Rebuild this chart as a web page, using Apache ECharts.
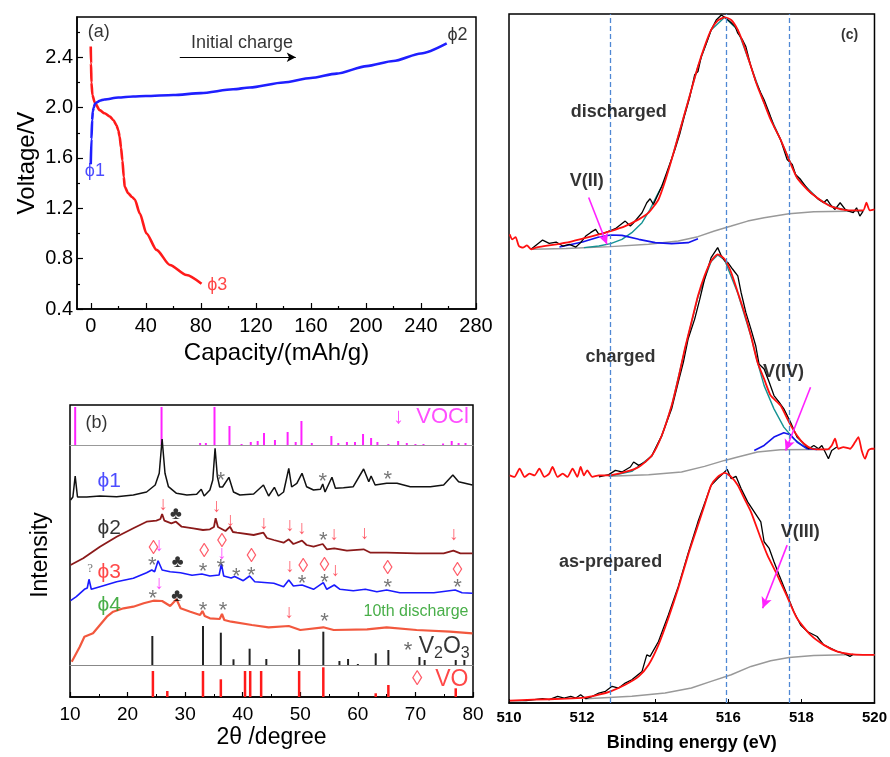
<!DOCTYPE html>
<html><head><meta charset="utf-8">
<script src="https://cdn.jsdelivr.net/npm/echarts@6/dist/echarts.min.js"></script>
<style>html,body{margin:0;padding:0;background:#fff}#c{width:890px;height:757px}</style>
</head><body><div id="c"></div><script>
const FONT = 'Arial, "Liberation Sans", sans-serif';

// ---------- Panel (a): charge / discharge ----------
const capTickLabels = [0, 40, 80, 120, 160, 200, 240, 280];
const capMinorTicks = [20, 60, 100, 140, 180, 220, 260];
const voltTickLabels = [0.4, 0.8, 1.2, 1.6, 2.0, 2.4];
const voltMinorTicks = [0.6, 1.0, 1.4, 1.8, 2.2, 2.6];
const chargeCurve = [[0,1.55],[0.5,1.75],[1,1.9],[1.5,1.97],[2.2,2.0],[3,2.03],[5,2.045],[6.5,2.055],[10,2.065],[20,2.08],[30.8,2.088],[40,2.092],[60,2.10],[80,2.115],[103.5,2.146],[115.6,2.16],[140,2.20],[160,2.235],[178.7,2.27],[200.5,2.33],[219.9,2.37],[240,2.43],[258.7,2.51]];
const dischargeCurve = [[0,2.485],[0.2,2.35],[0.5,2.2],[1.2,2.1],[2.9,2.04],[6.5,1.98],[10,1.955],[13.8,1.93],[16.5,1.9],[18.7,1.86],[20,1.82],[21,1.77],[22,1.68],[23,1.58],[24,1.45],[24.7,1.37],[27.2,1.32],[30,1.29],[32,1.27],[35.6,1.16],[40.5,1.0],[47.8,0.87],[57.5,0.75],[69.6,0.67],[80.5,0.60]];
const aLabels = [[5.8,2.60,'(a)','#000'],[110,2.51,'Initial charge','#000'],[3,1.50,'ϕ1','#1f1fff'],[92,0.59,'ϕ3','#ff1a1a'],[266.5,2.58,'ϕ2','#000']];
const aArrow = [[64.7,2.40],[149,2.40]];

// ---------- Panel (b): XRD ----------
const xrdTicks = [10, 20, 30, 40, 50, 60, 70, 80];
const voclSticks = [[10.9,38],[25.9,38],[32.6,2],[33.6,2],[35.1,38],[37.7,19],[39.8,1],[41.4,3],[42.6,4],[43.7,12],[45.6,5],[47.8,13],[49.2,3],[50.2,24],[52.0,2],[55.4,9],[56.6,2],[58.1,3],[59.5,3],[60.9,11],[62.3,7],[63.4,3],[65.3,1],[67.0,4],[68.5,2],[70.0,1],[71.4,1],[74.8,1.5],[76.3,4],[77.5,2],[78.7,2]];
const phi1 = [[10.1,165],[10.5,168],[10.9,189],[11.3,168],[12.9,168],[15.2,169],[18.1,168.3],[21.0,170],[23.3,173],[24.8,180],[25.5,191.7],[26.0,226],[26.5,191.7],[27.1,178.3],[28.5,171.7],[30.3,170],[32.0,170.7],[32.8,175.7],[33.3,169],[34.3,175],[34.8,185],[35.2,216.7],[35.6,188.3],[36.0,178],[36.5,178],[37.6,187.7],[38.4,173],[39.5,170],[41.9,171],[43.6,180],[44.5,169],[45.5,177.7],[46.2,169],[47.1,173],[48.0,196.7],[48.5,178],[49.4,181.7],[50.3,191.7],[51.1,178.3],[52.3,175],[53.5,175.7],[53.9,181],[54.3,173],[55.5,187.7],[56.1,176.7],[57.5,177.3],[59.2,178.3],[61.0,196],[61.9,183.3],[62.3,189],[63.0,180],[65.0,181.7],[66.8,181.7],[69.1,178.3],[72.6,178.3],[74.9,180],[76.5,190],[77.5,183.3],[79.9,180]];
const phi2 = [[10.1,100],[12.3,106.7],[15.2,118.3],[18.1,128.3],[21.0,136.7],[23.3,143.3],[25.0,144.3],[25.7,146],[26.0,151],[26.4,144.3],[27.6,141.7],[28.4,143.3],[29.4,138.3],[31.4,136.7],[33.1,135],[34.3,135.7],[35.0,138],[35.3,146.7],[35.7,138],[36.0,136.7],[37.0,134],[37.8,138.3],[38.3,133],[39.0,132.3],[41.9,130],[43.6,132.3],[44.2,127],[45.4,125],[47.1,122.3],[48.0,125.7],[48.8,121],[50.3,124.3],[51.1,120],[52.3,118.3],[53.9,121],[54.6,115.7],[55.9,116.7],[58.1,114.3],[61.0,115.7],[62.2,112.3],[65.0,112.3],[70.2,111.7],[74.9,111.7],[76.6,114.3],[77.8,111.7],[79.9,111.7]];
const phi3 = [[10.1,64.3],[11.1,68.3],[12.5,75.7],[13.0,77],[13.3,85.7],[13.7,75.7],[15.2,78.3],[18.1,83.3],[21.0,86.7],[23.3,92.3],[24.2,95],[24.7,93.3],[25.3,104.3],[26.0,95],[27.4,93.3],[29.2,92.3],[31.2,89.7],[32.9,91],[34.3,89],[35.9,90],[36.3,101],[36.7,89],[38.0,87],[38.6,88.5],[40.1,84.3],[41.2,89],[42.1,83.3],[45.4,81.7],[47.1,78.3],[48.0,85],[48.8,79],[50.3,80],[52.3,75.7],[54.0,82.3],[54.6,75.7],[55.9,80],[56.9,75.7],[59.2,74.3],[61.3,75.7],[63.3,73.3],[65.0,75],[67.3,72.3],[73.2,72.3],[76.9,75],[78.1,72.3],[79.9,71.7]];
const phi4 = [[10.3,3.3],[11.7,18.3],[12.5,28.3],[14.0,31.7],[15.2,40],[16.4,48.3],[17.5,53.3],[19.3,56.7],[21.0,58.3],[22.8,61.7],[24.5,64.3],[26.0,64],[27.4,59],[28.5,65.7],[29.2,56.7],[30.9,53.3],[32.6,50],[33.0,54],[33.4,49],[34.3,46.7],[36.0,46],[36.4,51],[36.8,45],[38.0,43.3],[41.6,40],[44.5,37.7],[48.0,39],[50.0,35],[54.0,37.7],[55.8,35],[61.6,35.7],[65.0,37.7],[70.2,35],[76.0,33.3],[79.9,31.7]];
const v2o3Sticks = [[24.3,29],[33.1,39],[36.2,32.3],[38.4,5.7],[41.2,16.3],[44.1,6],[49.8,15.7],[54.0,33.3],[56.8,4],[58.3,6],[60.0,1],[63.1,11.7],[65.3,15],[70.7,8],[71.6,5],[77.0,5],[78.5,5]];
const voSticks = [[24.4,26],[26.9,6],[33.1,26],[36.2,17.7],[40.4,26],[41.3,26],[43.2,26],[49.8,26],[54.0,29.7],[63.1,3.7],[65.3,12],[77.0,8.7]];
const bStars = [[36.2,189],[53.9,187.7],[65.2,190],[54.0,129.3],[24.3,104],[33.1,98.3],[36.2,101.7],[38.9,93.3],[41.5,94],[50.3,86],[54.2,87.3],[65.2,82.3],[77.3,81.7],[24.4,71],[33.1,59],[36.6,59],[54.2,48.3]];
const bArrowsRed = [[26.2,160],[35.5,158.3],[37.9,144],[43.7,141.7],[48.2,139],[50.3,136.7],[55.9,130.7],[61.2,131.7],[76.7,130],[48.2,98.3],[56.1,94],[48.1,52.3]];
const bArrowsMag = [[25.5,119],[36.4,111.7],[25.5,81.7]];
const bDiamonds = [[24.5,116.7],[33.3,114],[36.4,123.3],[41.5,108.3],[50.5,99],[54.2,99.3],[65.2,96.7],[77.3,95]];
const bClubs = [[28.4,151],[28.7,103.3],[28.6,69]];
const bQuestion = [[13.5,96.7]];
const bPhiLabels = [[16.8,184,'ϕ1','#2020ff'],[16.8,136.7,'ϕ2','#000'],[16.8,93,'ϕ3','#ff1a1a'],[16.8,60,'ϕ4','#1a9a1a'],[70.1,53.3,'10th discharge','#1a9a1a']];

// ---------- Panel (c): XPS ----------
const beTicks = [510, 512, 514, 516, 518, 520];
const refLines = [512.78, 515.94, 517.66];
const disRed = [[510.02,470],[510.09,465],[510.18,467.3],[510.27,458.3],[510.38,456.7],[510.49,459],[510.61,455],[510.74,456.7],[511.56,461.7],[512.01,465.7],[512.46,470],[512.78,473.3],[513.18,478.3],[513.55,485],[513.82,491.7],[514.09,505],[514.27,523.3],[514.45,545],[514.63,568.3],[514.81,591.7],[514.99,615],[515.17,638.3],[515.35,658.3],[515.53,675],[515.71,684.3],[515.90,687.7],[516.08,685],[516.26,675],[516.44,658.3],[516.62,638.3],[516.80,618.3],[516.98,601.7],[517.16,585],[517.43,565],[517.66,545],[517.88,526.7],[518.16,515],[518.43,506.7],[518.79,498.3],[519.24,494.3],[519.69,494],[519.78,501.7],[519.87,494],[520.0,495]];
const disData = [[510.61,455.3],[510.92,464.3],[511.10,461],[511.29,462.3],[511.47,458.3],[511.65,460],[511.83,457.3],[511.96,461.7],[512.10,468.3],[512.23,471.7],[512.37,475],[512.46,470],[512.64,471.7],[512.91,475.7],[513.18,483.3],[513.32,478.3],[513.41,481.7],[513.64,491.7],[513.77,501.7],[513.86,505.7],[513.95,500],[514.18,518.3],[514.36,536.7],[514.54,555],[514.68,571.7],[514.81,590],[514.95,608.3],[515.08,630],[515.17,633.3],[515.26,648.3],[515.40,661.7],[515.53,675],[515.67,685],[515.81,690],[515.94,686.7],[516.08,682.3],[516.19,678.3],[516.26,671.7],[516.39,665],[516.48,658.3],[516.62,638.3],[516.75,623.3],[516.89,611.7],[516.98,605],[517.12,591.7],[517.25,578.3],[517.43,565],[517.61,545],[517.75,540],[517.84,530],[517.98,525],[518.11,518.3],[518.25,511.7],[518.38,508.3],[518.47,505],[518.61,501.7],[518.70,505],[518.79,500],[518.92,495],[519.06,501.7],[519.20,495],[519.29,493.3],[519.42,491.7],[519.51,496.7],[519.60,488.3],[519.69,493.3]];
const disMain = [[512.05,456.7],[512.46,458.3],[512.78,460.7],[513.09,465],[513.36,471.7],[513.64,481.7],[513.86,495],[514.04,508.3],[514.18,518.3],[514.27,525],[514.45,545.3],[514.81,591.7],[515.17,638.3],[515.53,675],[515.90,687.7],[516.26,675],[516.62,638.3],[516.98,601.7],[517.43,565],[517.88,526.7],[518.43,506.7],[518.79,498.3],[519.24,494.3]];
const disMinor = [[511.38,457.3],[512.01,462.3],[512.46,467.3],[512.78,469.3],[513.09,469],[513.55,465],[514.00,461.7],[514.45,460.7],[514.90,461.7],[515.17,465.7]];
const disBg = [[510.65,455],[511.56,455.7],[512.78,457.7],[513.82,460],[514.63,463.3],[515.17,467.7],[515.62,473.3],[516.08,478.3],[516.53,483.3],[516.98,486.7],[517.66,490.7],[518.34,492.7],[519.24,493.3],[519.69,493.3]];
const chgRed = [[510.02,228.3],[510.15,226.7],[510.29,235],[510.43,226.7],[510.56,230],[510.70,228.3],[510.83,235],[510.97,226.7],[511.10,230],[511.19,236.7],[511.33,226.7],[511.47,230],[511.60,226.7],[511.74,235],[511.87,226.7],[511.96,236.7],[512.05,228.3],[512.14,233.3],[512.28,226.7],[512.46,228.3],[512.73,228.3],[513.18,231.7],[513.55,236.7],[513.91,248.3],[514.18,268.3],[514.45,298.3],[514.63,325],[514.81,355],[514.99,381.7],[515.17,408.3],[515.35,428.3],[515.53,443.3],[515.71,450],[515.90,445],[516.08,431.7],[516.26,411.7],[516.44,391.7],[516.62,368.3],[516.80,341.7],[516.98,325],[517.16,308.3],[517.43,298.3],[517.66,281.7],[517.88,268.3],[518.07,260],[518.29,255],[518.52,254.3],[518.70,254.3],[518.83,258.3],[518.92,265],[519.01,255],[519.15,256.7],[519.33,255],[519.47,261.7],[519.56,266.7],[519.65,253.3],[519.74,245],[519.83,253.3],[519.92,255],[520.0,255]];
const chgData = [[512.46,226.7],[512.73,229],[512.91,233.3],[513.09,231.7],[513.32,236.7],[513.41,241.7],[513.55,238.3],[513.73,241.7],[513.91,248.3],[514.18,268.3],[514.45,295],[514.63,321.7],[514.77,341.7],[514.90,365],[515.08,385],[515.22,405],[515.35,425],[515.53,446.7],[515.71,456.7],[515.79,450],[515.90,443.3],[515.99,441.7],[516.12,435],[516.26,428.3],[516.35,411.7],[516.48,391.7],[516.62,375],[516.75,358.3],[516.84,340],[516.98,335],[517.12,321.7],[517.25,308.3],[517.39,301.7],[517.52,295],[517.70,281.7],[517.88,266.7],[518.02,261.7],[518.20,255],[518.34,258.3],[518.47,255],[518.56,258.3],[518.65,251.7],[518.74,245],[518.83,253.3],[518.97,256.7]];
const chgMain = [[512.73,227.3],[513.36,232.3],[513.91,247.7],[514.18,267.7],[514.45,297.7],[514.81,354.3],[515.17,407.7],[515.53,442.7],[515.71,449.3],[515.90,444.3],[516.26,411],[516.62,367.7],[516.80,341.7],[516.98,318.3],[517.25,295],[517.52,276.7],[517.79,265],[518.07,257.3],[518.43,254.3]];
const chgMinor = [[516.71,253.3],[516.98,258.3],[517.25,266.7],[517.52,271],[517.70,269],[517.88,261.7],[518.16,255],[518.43,254.3]];
const chgBg = [[512.73,227.3],[513.82,229],[514.72,231.7],[515.35,237.3],[515.90,243.3],[516.26,246.7],[516.80,251.7],[517.43,254],[518.34,254.3],[518.79,254.3]];
const prepRed = [[510.02,2.3],[510.65,3.3],[511.56,4.3],[512.10,5.7],[512.46,8.3],[512.78,11.7],[513.18,18.3],[513.55,26.7],[513.82,38.3],[514.09,58.3],[514.36,85],[514.63,115],[514.90,148.3],[515.17,178.3],[515.35,198.3],[515.53,218.3],[515.71,226.7],[515.90,230.7],[516.08,226.7],[516.26,218.3],[516.44,205],[516.62,191.7],[516.89,165],[517.07,148.3],[517.34,128.3],[517.61,106.7],[517.88,85],[518.25,68.3],[518.61,58.3],[518.97,51.7],[519.33,49],[519.69,48.3],[520.0,48.3]];
const prepData = [[510.02,2.3],[510.47,2.3],[510.92,4.3],[511.10,3.3],[511.33,6.7],[511.51,5],[511.69,6.7],[511.83,5],[511.96,8.3],[512.10,4.3],[512.28,6.7],[512.46,10],[512.64,11.7],[512.82,16.7],[513.00,15],[513.18,20],[513.36,23.3],[513.64,31.7],[513.77,48.3],[513.86,46.7],[514.09,61.7],[514.36,88.3],[514.63,116.7],[514.90,150],[515.17,181.7],[515.35,200],[515.53,218.3],[515.71,225],[515.85,230],[515.97,234.3],[516.08,225],[516.21,227.3],[516.35,215],[516.53,201.7],[516.71,191.7],[516.89,181.7],[516.98,161.7],[517.12,155],[517.25,141.7],[517.39,128.3],[517.61,108.3],[517.79,91.7],[517.98,78.3],[518.16,71.7],[518.43,66.7],[518.61,58.3],[518.79,55],[518.97,51.7],[519.15,50],[519.33,46.7],[519.42,49]];
const prepBg = [[512.10,4.3],[513.36,6.7],[514.27,10],[514.99,15],[515.53,21.7],[516.08,28.3],[516.62,36.7],[517.16,42.3],[517.66,45.7],[518.34,47.7],[519.24,48.3],[520.0,48.3]];
const cLabels = [[513.0,593,'discharged'],[512.13,523,'V(II)'],[513.05,347,'charged'],[517.51,332,'V(IV)'],[512.78,141.7,'as-prepared'],[517.97,171.7,'V(III)']];
const cArrows = [[[512.18,507],[512.68,460]],[[518.25,316.7],[517.57,253.3]],[[517.61,158.3],[516.94,95]]];

// ---------- helpers ----------
function textSeries(xi, yi, items, style, fixedText) {
  return {
    type: 'scatter', xAxisIndex: xi, yAxisIndex: yi, symbolSize: 1, silent: true, z: 20, clip: false,
    itemStyle: { color: 'rgba(0,0,0,0)' },
    data: items.map(d => ({ value: [d[0], d[1]], name: fixedText != null ? fixedText : d[2],
      label: d[3] ? { color: d[3] } : undefined })),
    label: Object.assign({ show: true, position: 'inside', align: 'center', verticalAlign: 'middle',
      fontFamily: FONT, formatter: p => p.name }, style)
  };
}
function lineS(xi, yi, data, color, width, extra) {
  return Object.assign({ type: 'line', xAxisIndex: xi, yAxisIndex: yi, data, symbol: 'none', silent: true,
    lineStyle: { color, width }, itemStyle: { color } }, extra || {});
}
function barS(xi, yi, data, color, w) {
  return { type: 'bar', xAxisIndex: xi, yAxisIndex: yi, data, barWidth: w, silent: true,
    itemStyle: { color } };
}
const hiddenAxis = (g, min, max) => ({ gridIndex: g, type: 'value', min, max, show: false });

const option = {
  animation: false,
  backgroundColor: '#fff',
  textStyle: { fontFamily: FONT },
  grid: [
    { left: 77, top: 17, width: 399, height: 292, show: true, borderColor: '#000', borderWidth: 1.5 },
    { left: 70, top: 405, width: 403, height: 40, show: false },
    { left: 70, top: 445, width: 403, height: 220, show: false },
    { left: 70, top: 665, width: 403, height: 32, show: false },
    { left: 509, top: 14, width: 369, height: 691, show: true, borderColor: '#000', borderWidth: 1.5 },
    { left: 70, top: 405, width: 403, height: 292, show: true, borderColor: '#000', borderWidth: 1.5 }
  ],
  xAxis: [
    { gridIndex: 0, type: 'value', min: -10, max: 280,
      axisLine: { onZero: false, lineStyle: { color: '#000', width: 1.5 } },
      axisTick: { inside: true, length: 6, customValues: capTickLabels, lineStyle: { color: '#000', width: 1.2 } },
      axisLabel: { customValues: capTickLabels, fontSize: 20, color: '#000', margin: 7 },
      splitLine: { show: false },
      name: 'Capacity/(mAh/g)', nameLocation: 'middle', nameGap: 32, nameTextStyle: { fontSize: 24, color: '#000' } },
    { gridIndex: 0, type: 'value', min: -10, max: 280, position: 'bottom',
      axisLine: { show: false, onZero: false }, axisLabel: { show: false }, splitLine: { show: false },
      axisTick: { inside: true, length: 3, customValues: capMinorTicks, lineStyle: { color: '#000', width: 1.2 } } },
    { gridIndex: 1, type: 'value', min: 10, max: 80, axisLine: { onZero: false, lineStyle: { color: '#999', width: 1 } },
      axisTick: { show: false }, axisLabel: { show: false }, splitLine: { show: false } },
    { gridIndex: 2, type: 'value', min: 10, max: 80, axisLine: { onZero: false, lineStyle: { color: '#888', width: 1 } },
      axisTick: { show: false }, axisLabel: { show: false }, splitLine: { show: false } },
    { gridIndex: 3, type: 'value', min: 10, max: 80, interval: 10,
      axisLine: { onZero: false, lineStyle: { color: '#000', width: 1.5 } },
      axisTick: { inside: true, length: 5, lineStyle: { color: '#000', width: 1.2 } },
      minorTick: { show: true, splitNumber: 2, length: 3, lineStyle: { color: '#000', width: 1 } },
      axisLabel: { fontSize: 19, color: '#000', margin: 8, customValues: xrdTicks },
      splitLine: { show: false },
      name: '2θ /degree', nameLocation: 'middle', nameGap: 29, nameTextStyle: { fontSize: 23, color: '#000' } },
    { gridIndex: 4, type: 'value', min: 510, max: 520, interval: 2,
      axisLine: { onZero: false, lineStyle: { color: '#000', width: 1.5 } },
      axisTick: { inside: true, length: 4, lineStyle: { color: '#000' } },
      axisLabel: { fontSize: 15, fontWeight: 'bold', color: '#000', margin: 7, customValues: beTicks },
      splitLine: { show: false },
      name: 'Binding energy (eV)', nameLocation: 'middle', nameGap: 31,
      nameTextStyle: { fontSize: 18, fontWeight: 'bold', color: '#000' } },
    hiddenAxis(5, 0, 1)
  ],
  yAxis: [
    { gridIndex: 0, type: 'value', min: 0.4, max: 2.72,
      axisLine: { onZero: false, lineStyle: { color: '#000', width: 1.5 } },
      axisTick: { inside: true, length: 6, customValues: voltTickLabels, lineStyle: { color: '#000', width: 1.2 } },
      axisLabel: { customValues: voltTickLabels, fontSize: 20, color: '#000', margin: 4, formatter: v => v.toFixed(1) },
      splitLine: { show: false },
      name: 'Voltage/V', nameLocation: 'middle', nameGap: 38, nameTextStyle: { fontSize: 24, color: '#000' } },
    { gridIndex: 0, type: 'value', min: 0.4, max: 2.72, position: 'left',
      axisLine: { show: false, onZero: false }, axisLabel: { show: false }, splitLine: { show: false },
      axisTick: { inside: true, length: 3, customValues: voltMinorTicks, lineStyle: { color: '#000', width: 1.2 } } },
    hiddenAxis(1, 0, 40),
    { gridIndex: 2, type: 'value', min: 0, max: 220, axisLine: { show: false }, axisTick: { show: false },
      axisLabel: { show: false }, splitLine: { show: false },
      name: 'Intensity', nameLocation: 'middle', nameGap: 18, nameTextStyle: { fontSize: 23, color: '#000' } },
    hiddenAxis(3, 0, 32),
    hiddenAxis(4, 0, 691),
    hiddenAxis(5, 0, 1)
  ],
  series: [
    // panel a
    lineS(0, 0, dischargeCurve, '#ff1a1a', 2.6, { smooth: 0.25, smoothMonotone: 'x' }),
    lineS(0, 0, chargeCurve, '#1f1fff', 2.6, { smooth: 0.25, smoothMonotone: 'x' }),
    { type: 'line', xAxisIndex: 0, yAxisIndex: 0, data: [], silent: true,
      markLine: { silent: true, symbol: ['none', 'arrow'], symbolSize: [7, 9], label: { show: false },
        lineStyle: { color: '#000', width: 1, type: 'solid' },
        data: [[{ coord: aArrow[0] }, { coord: aArrow[1] }]] } },
    textSeries(0, 0, aLabels, { fontSize: 18, color: '#000' }),

    // panel b
    barS(2, 2, voclSticks, '#ff22ff', 2),
    lineS(3, 3, phi4, '#f2583e', 2.2, { clip: false }),
    lineS(3, 3, phi3, '#1a1aff', 1.6, { clip: false }),
    lineS(3, 3, phi2, '#8b1a1a', 1.8, { clip: false }),
    lineS(3, 3, phi1, '#111', 1.5, { clip: false }),
    barS(3, 3, v2o3Sticks, '#222', 2),
    barS(4, 4, voSticks, '#ff1a1a', 2.5),
    textSeries(3, 3, bStars, { fontSize: 22, color: '#555', offset: [0, 5] }, '*'),
    textSeries(3, 3, bArrowsRed, { fontSize: 19, color: '#ff3344' }, '↓'),
    textSeries(3, 3, bArrowsMag, { fontSize: 19, color: '#ff22ff' }, '↓'),
    textSeries(3, 3, bDiamonds, { fontSize: 20, color: '#ff3344' }, '◊'),
    textSeries(3, 3, bClubs, { fontSize: 18, color: '#000' }, '♣'),
    textSeries(3, 3, bQuestion, { fontSize: 13, color: '#555', fontFamily: 'serif' }, '?'),
    textSeries(3, 3, bPhiLabels.slice(0, 4), { fontSize: 21 }),
    textSeries(3, 3, bPhiLabels.slice(4), { fontSize: 16 }),
    textSeries(3, 3, [[73.7, 18.3]], { fontSize: 23, color: '#000',
      rich: { st: { fontSize: 22, color: '#444', padding: [8, 0, 0, 0] }, sb: { fontSize: 16, color: '#000', padding: [14, 0, 0, 0] } } },
      '{st|*} V{sb|2}O{sb|3}'),
    textSeries(4, 4, [[74.3, 17.7]], { fontSize: 23, color: '#ff1a1a',
      rich: { d: { fontSize: 21, color: '#ff3344' } } }, '{d|◊}  VO'),
    textSeries(2, 2, [[72.7, 28]], { fontSize: 22, color: '#ff22ff' }, '↓  VOCl'),
    textSeries(2, 2, [[14.6, 21.7]], { fontSize: 18, color: '#000' }, '(b)'),

    // panel c
    { type: 'line', xAxisIndex: 5, yAxisIndex: 5, data: [], silent: true,
      markLine: { silent: true, symbol: 'none', label: { show: false },
        lineStyle: { color: '#4f88d4', width: 1.3, type: [5, 3] },
        data: refLines.map(v => ({ xAxis: v })) } },
    lineS(5, 5, disBg, '#999', 1.5),
    lineS(5, 5, chgBg, '#999', 1.5),
    lineS(5, 5, prepBg, '#999', 1.5),
    lineS(5, 5, disMain, '#159393', 1.4),
    lineS(5, 5, chgMain, '#159393', 1.4),
    lineS(5, 5, disMinor, '#1414ee', 1.6),
    lineS(5, 5, chgMinor, '#1414ee', 1.6),
    lineS(5, 5, disData, '#000', 1.3),
    lineS(5, 5, chgData, '#000', 1.3),
    lineS(5, 5, prepData, '#000', 1.3),
    lineS(5, 5, disRed, '#ff1010', 1.8, { smooth: 0.2 }),
    lineS(5, 5, chgRed, '#ff1010', 1.8, { smooth: 0.2 }),
    lineS(5, 5, prepRed, '#ff1010', 1.8, { smooth: 0.2 }),
    { type: 'line', xAxisIndex: 5, yAxisIndex: 5, data: [], silent: true, z: 15,
      markLine: { silent: true, symbol: ['none', 'arrow'], symbolSize: [8, 11], label: { show: false },
        lineStyle: { color: '#ff22ff', width: 1.6, type: 'solid' },
        data: cArrows.map(a => [{ coord: a[0] }, { coord: a[1] }]) } },
    textSeries(5, 5, cLabels, { fontSize: 18, fontWeight: 'bold', color: '#000' }),
    textSeries(5, 5, [[519.32, 670]], { fontSize: 14, fontWeight: 'bold', color: '#000' }, '(c)')
  ]
};
const chart = echarts.init(document.getElementById('c'), null, { renderer: 'canvas' });
chart.setOption(option);
</script></body></html>
